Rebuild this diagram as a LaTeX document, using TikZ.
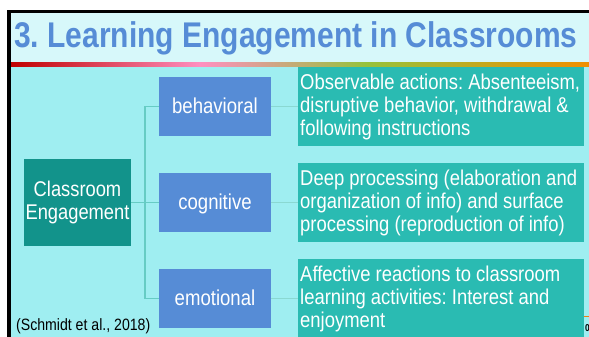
\documentclass[tikz,border=0pt]{standalone}
\usepackage{fontspec}
\usetikzlibrary{calc}
\setmainfont{Liberation Sans}
\newfontfamily\condfont[FakeStretch=0.86]{Liberation Sans}
\newfontfamily\condbold[FakeStretch=0.84]{Liberation Sans Bold}
\frenchspacing
\definecolor{panelbg}{HTML}{9FEEF1}
\definecolor{titlebg}{HTML}{D7F8FA}
\definecolor{bluebox}{HTML}{568CD6}
\definecolor{tealdark}{HTML}{12938B}
\definecolor{tealbox}{HTML}{2ABBB2}
\definecolor{linkc}{HTML}{66CCC4}
\definecolor{linkpale}{HTML}{8AD8D2}
\definecolor{barred}{HTML}{C00000}
\definecolor{barpink}{HTML}{FF8FC0}
\definecolor{bargreen}{HTML}{96C23C}
\definecolor{barorange}{HTML}{F09000}
\tikzset{
  x=1pt,y=-1pt,
  midbox/.style={fill=bluebox,draw=none,minimum width=112pt,minimum height=59pt,inner sep=0pt,text height=15pt,text depth=2pt,text=white,font=\condfont\fontsize{21.6}{24}\selectfont},
  rootbox/.style={fill=tealdark,draw=none,minimum width=107pt,minimum height=87pt,inner sep=0pt,text=white,align=center,font=\condfont\fontsize{21.3}{23}\selectfont},
  leaftext/.style={anchor=west,inner sep=0pt,text=white,align=left,font=\frenchspacing\condfont\fontsize{21.45}{23}\selectfont},
  linkline/.style={draw=linkc,line width=1.2pt},
  linkpaleline/.style={draw=linkpale,line width=1.2pt},
}
\begin{document}
\begin{tikzpicture}
\useasboundingbox (0,0) rectangle (589,337);
\fill[white] (0,0) rectangle (589,337);
\fill[panelbg] (10,13) rectangle (589,337);
\fill[titlebg] (10,13) rectangle (589,63);
\fill[black] (7,10) rectangle (589,13);
\fill[black] (7,10) rectangle (11,337);
\shade[left color=barred,right color=barpink] (11,63) rectangle (200,67);
\shade[left color=barpink,right color=bargreen] (200,63) rectangle (365,67);
\shade[left color=bargreen,right color=barorange] (365,63) rectangle (589,67);
\node[anchor=west,inner sep=0pt,text=bluebox,font=\frenchspacing\condbold\fontsize{35.7}{38}\selectfont] (title) at (14,38) {3. Learning Engagement in Classrooms};
\node[rootbox] (root) at (77.5,202.5) {Classroom\\Engagement};
\node[midbox] (beh) at (215,106.5) {behavioral};
\node[midbox] (cog) at (215,202.5) {cognitive};
\node[midbox] (emo) at (215,298.5) {emotional};
\fill[tealbox] (298,67) rectangle (584,146);
\fill[tealbox] (298,163) rectangle (584,242);
\fill[tealbox] (298,259) rectangle (584,337);
\fill[orange!80!brown] (584,316) rectangle (589,317);
\node[anchor=west,inner sep=0pt,text=black,font=\condbold\fontsize{10}{12}\selectfont] (pagenum) at (585,328) {0};
\coordinate (l1) at (298,106.5);
\coordinate (l2) at (298,202.5);
\coordinate (l3) at (298,298.5);
\coordinate (bend) at (145,202.5);
\draw[linkline] (root.east) -- (cog.west);
\draw[linkline] (beh.west) -| (bend);
\draw[linkline] (emo.west) -| (bend);
\draw[linkpaleline] (beh.east) -- (l1);
\draw[linkpaleline] (cog.east) -- (l2);
\draw[linkpaleline] (emo.east) -- (l3);
\node[leaftext] (t1) at (300,107) {Observable actions: Absenteeism,\\disruptive behavior, withdrawal \&\\following instructions};
\node[leaftext] (t2) at (300,203) {Deep processing (elaboration and\\organization of info) and surface\\processing (reproduction of info)};
\node[leaftext] (t3) at (300,299) {Affective reactions to classroom\\learning activities: Interest and\\enjoyment};
\node[anchor=west,inner sep=0pt,text=black,font=\frenchspacing\condfont\fontsize{16.4}{18}\selectfont] (cite) at (16,326) {(Schmidt et al., 2018)};
\end{tikzpicture}
\end{document}
